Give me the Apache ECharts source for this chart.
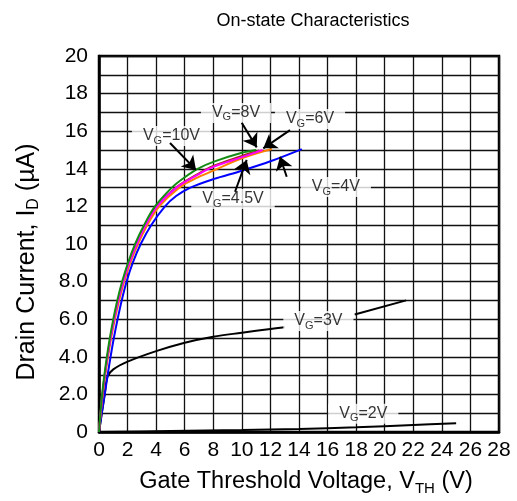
<!DOCTYPE html>
<html>
<head>
<meta charset="utf-8">
<script src="https://cdn.jsdelivr.net/npm/echarts@6/dist/echarts.min.js"></script>
<style>html,body{margin:0;padding:0;background:#fff}#c{width:517px;height:501px}</style>
</head>
<body>
<div id="c"></div>
<script>
// ---- data (V_TH [V], I_D [uA]) ----
const vg10V = [[0,0],[0.1,1],[0.22,2],[0.37,3],[0.55,4],[0.76,5],[1.0,6],[1.28,7],[1.62,8],[2.03,9],[2.53,10],[3.15,11],[3.92,12],[5.1,13],[6.0,13.55],[6.9,14.0],[8,14.37],[10,14.85],[11.0,15.0]];
const vg8V  = [[0,0],[0.11,1],[0.24,2],[0.4,3],[0.59,4],[0.81,5],[1.06,6],[1.35,7],[1.7,8],[2.12,9],[2.64,10],[3.27,11],[4.07,12],[5.42,13],[7,13.72],[8,14.1],[10,14.62],[11.45,15.0]];
const vg6V  = [[0,0],[0.11,1],[0.24,2],[0.4,3],[0.59,4],[0.8,5],[1.05,6],[1.34,7],[1.68,8],[2.1,9],[2.62,10],[3.24,11],[4.03,12],[5.38,13],[7,13.76],[8,14.15],[10,14.68],[11.2,14.97]];
const vg45V = [[0,0],[0.12,1],[0.26,2],[0.43,3],[0.63,4],[0.85,5],[1.11,6],[1.41,7],[1.76,8],[2.19,9],[2.73,10],[3.38,11],[4.22,12],[5.62,13],[6.8,13.5],[8,13.9],[10,14.56],[12.1,15.05]];
const vg4V  = [[0,0],[0.19,1],[0.4,2],[0.6,3],[0.81,4],[1.04,5],[1.3,6],[1.59,7],[1.93,8],[2.36,9],[2.92,10],[3.65,11],[4.62,12],[5.4,12.55],[6.4,13.0],[8,13.45],[10,13.9],[12,14.4],[14.2,15.05]];
const vg3V  = [[0,0],[0.2,1],[0.4,2],[0.6,2.95],[1,3.33],[2,3.74],[4,4.3],[6,4.75],[8,5.07],[10,5.28],[12,5.48],[13,5.57],[13.5,null],[17.9,6.25],[21.5,7.0]];
const vg2V  = [[0,0],[5,0.05],[10,0.1],[14,0.16],[18,0.25],[22,0.37],[25,0.47]];

const xTickValues = [0,2,4,6,8,10,12,14,16,18,20,22,24,26,28];
const yTickValues = [0,2,4,6,8,10,12,14,16,18,20];
const yTickLabels = ['0','2.0','4.0','6.0','8.0','10','12','14','16','18','20'];

// annotation labels: [subscript, rest, x, y]
const noteLabels = [['G','=10V',5.07,15.74],['G','=8V',9.59,16.97],['G','=6V',14.77,16.65],['G','=4.5V',9.38,12.39],['G','=4V',16.58,13.03],['G','=3V',15.36,5.9],['G','=2V',18.5,0.97]];
// annotation arrows: [x1,y1,x2,y2] (tail -> head)
const noteArrows = [[4.97,15.37,6.79,13.94],[9.99,16.45,11.04,15.14],[13.37,16.06,11.5,15.09],[9.52,12.78,10.34,14.47],[13.14,13.58,12.67,14.64]];

const FONT = 'Liberation Sans, Arial, sans-serif';
const chart = echarts.init(document.getElementById('c'), null, {renderer:'canvas'});

const curve = (name, data, color) => ({
  name, type:'line', data, showSymbol:false, symbol:'none', smooth:0.35,
  connectNulls:false, lineStyle:{color, width:2}, itemStyle:{color}, z:3
});

const yLabelMap = {};
yTickValues.forEach((v,i)=>{ yLabelMap[v] = yTickLabels[i]; });

chart.setOption({
  animation:false,
  backgroundColor:'#fff',
  title:{
    text:'On-state Characteristics', left:308, top:7, textAlign:'center',
    textStyle:{fontFamily:FONT, fontSize:18, fontWeight:'normal', color:'#000'}
  },
  grid:{left:99, right:18, top:56, bottom:69, show:true, borderColor:'#000', borderWidth:2.5, backgroundColor:'transparent'},
  xAxis:{
    type:'value', min:0, max:28, interval:2,
    axisLine:{show:true, lineStyle:{color:'#000', width:2.5}},
    axisTick:{show:false},
    axisLabel:{margin:8, color:'#000', fontFamily:FONT, fontSize:21,
      formatter:(v)=> xTickValues.includes(v) ? String(v) : ''},
    splitLine:{show:true, lineStyle:{color:'#111', width:1.3}},
    name:'{a|Gate Threshold Voltage, V}{s|TH}{a| (V)}', nameLocation:'middle', nameGap:36,
    nameTextStyle:{padding:[0,0,0,14], rich:{
      a:{fontFamily:FONT, fontSize:23.5, color:'#000', lineHeight:28},
      s:{fontFamily:FONT, fontSize:15, color:'#000', lineHeight:15, verticalAlign:'bottom'}
    }}
  },
  yAxis:{
    type:'value', min:0, max:20, interval:1,
    axisLine:{show:true, lineStyle:{color:'#000', width:2.5}},
    axisTick:{show:false},
    axisLabel:{margin:11, color:'#000', fontFamily:FONT, fontSize:21,
      formatter:(v)=> (yLabelMap[v] !== undefined ? yLabelMap[v] : '')},
    splitLine:{show:true, lineStyle:{color:'#111', width:1.3}},
    name:'{a|Drain Current, I}{s|D}{a| (µA)}', nameLocation:'middle', nameGap:57, nameRotate:90,
    nameTextStyle:{padding:[0,36,0,0], rich:{
      a:{fontFamily:FONT, fontSize:25, color:'#000', lineHeight:30},
      s:{fontFamily:FONT, fontSize:16, color:'#000', lineHeight:16, verticalAlign:'bottom'}
    }}
  },
  series:[
    curve('VG=2V', vg2V, '#000'),
    curve('VG=3V', vg3V, '#000'),
    curve('VG=4V', vg4V, '#0000ff'),
    curve('VG=4.5V', vg45V, '#ff7f00'),
    curve('VG=6V', vg6V, '#a03018'),
    curve('VG=8V', vg8V, '#ff00ff'),
    curve('VG=10V', vg10V, '#148c14'),
    {
      name:'notes', type:'scatter', symbolSize:0, z:10, silent:true,
      data: noteLabels.map(n=>({value:[n[2],n[3]], sub:n[0], rest:n[1]})),
      label:{show:true, position:'inside',
        formatter:(p)=>'{a|V}{s|'+p.data.sub+'}{a|'+p.data.rest+'}',
        backgroundColor:'#fff', padding:[0,11,0,11],
        rich:{
          a:{fontFamily:FONT, fontSize:16, color:'#000', lineHeight:20},
          s:{fontFamily:FONT, fontSize:11, color:'#000', lineHeight:11, verticalAlign:'bottom'}
        }
      },
      markLine:{
        silent:true, symbol:['none','arrow'], symbolSize:13, symbolKeepAspect:true,
        label:{show:false}, z:12,
        lineStyle:{color:'#000', width:2, type:'solid'},
        emphasis:{disabled:true},
        data: noteArrows.map(a=>[{coord:[a[0],a[1]]},{coord:[a[2],a[3]]}])
      }
    }
  ]
});
</script>
</body>
</html>
